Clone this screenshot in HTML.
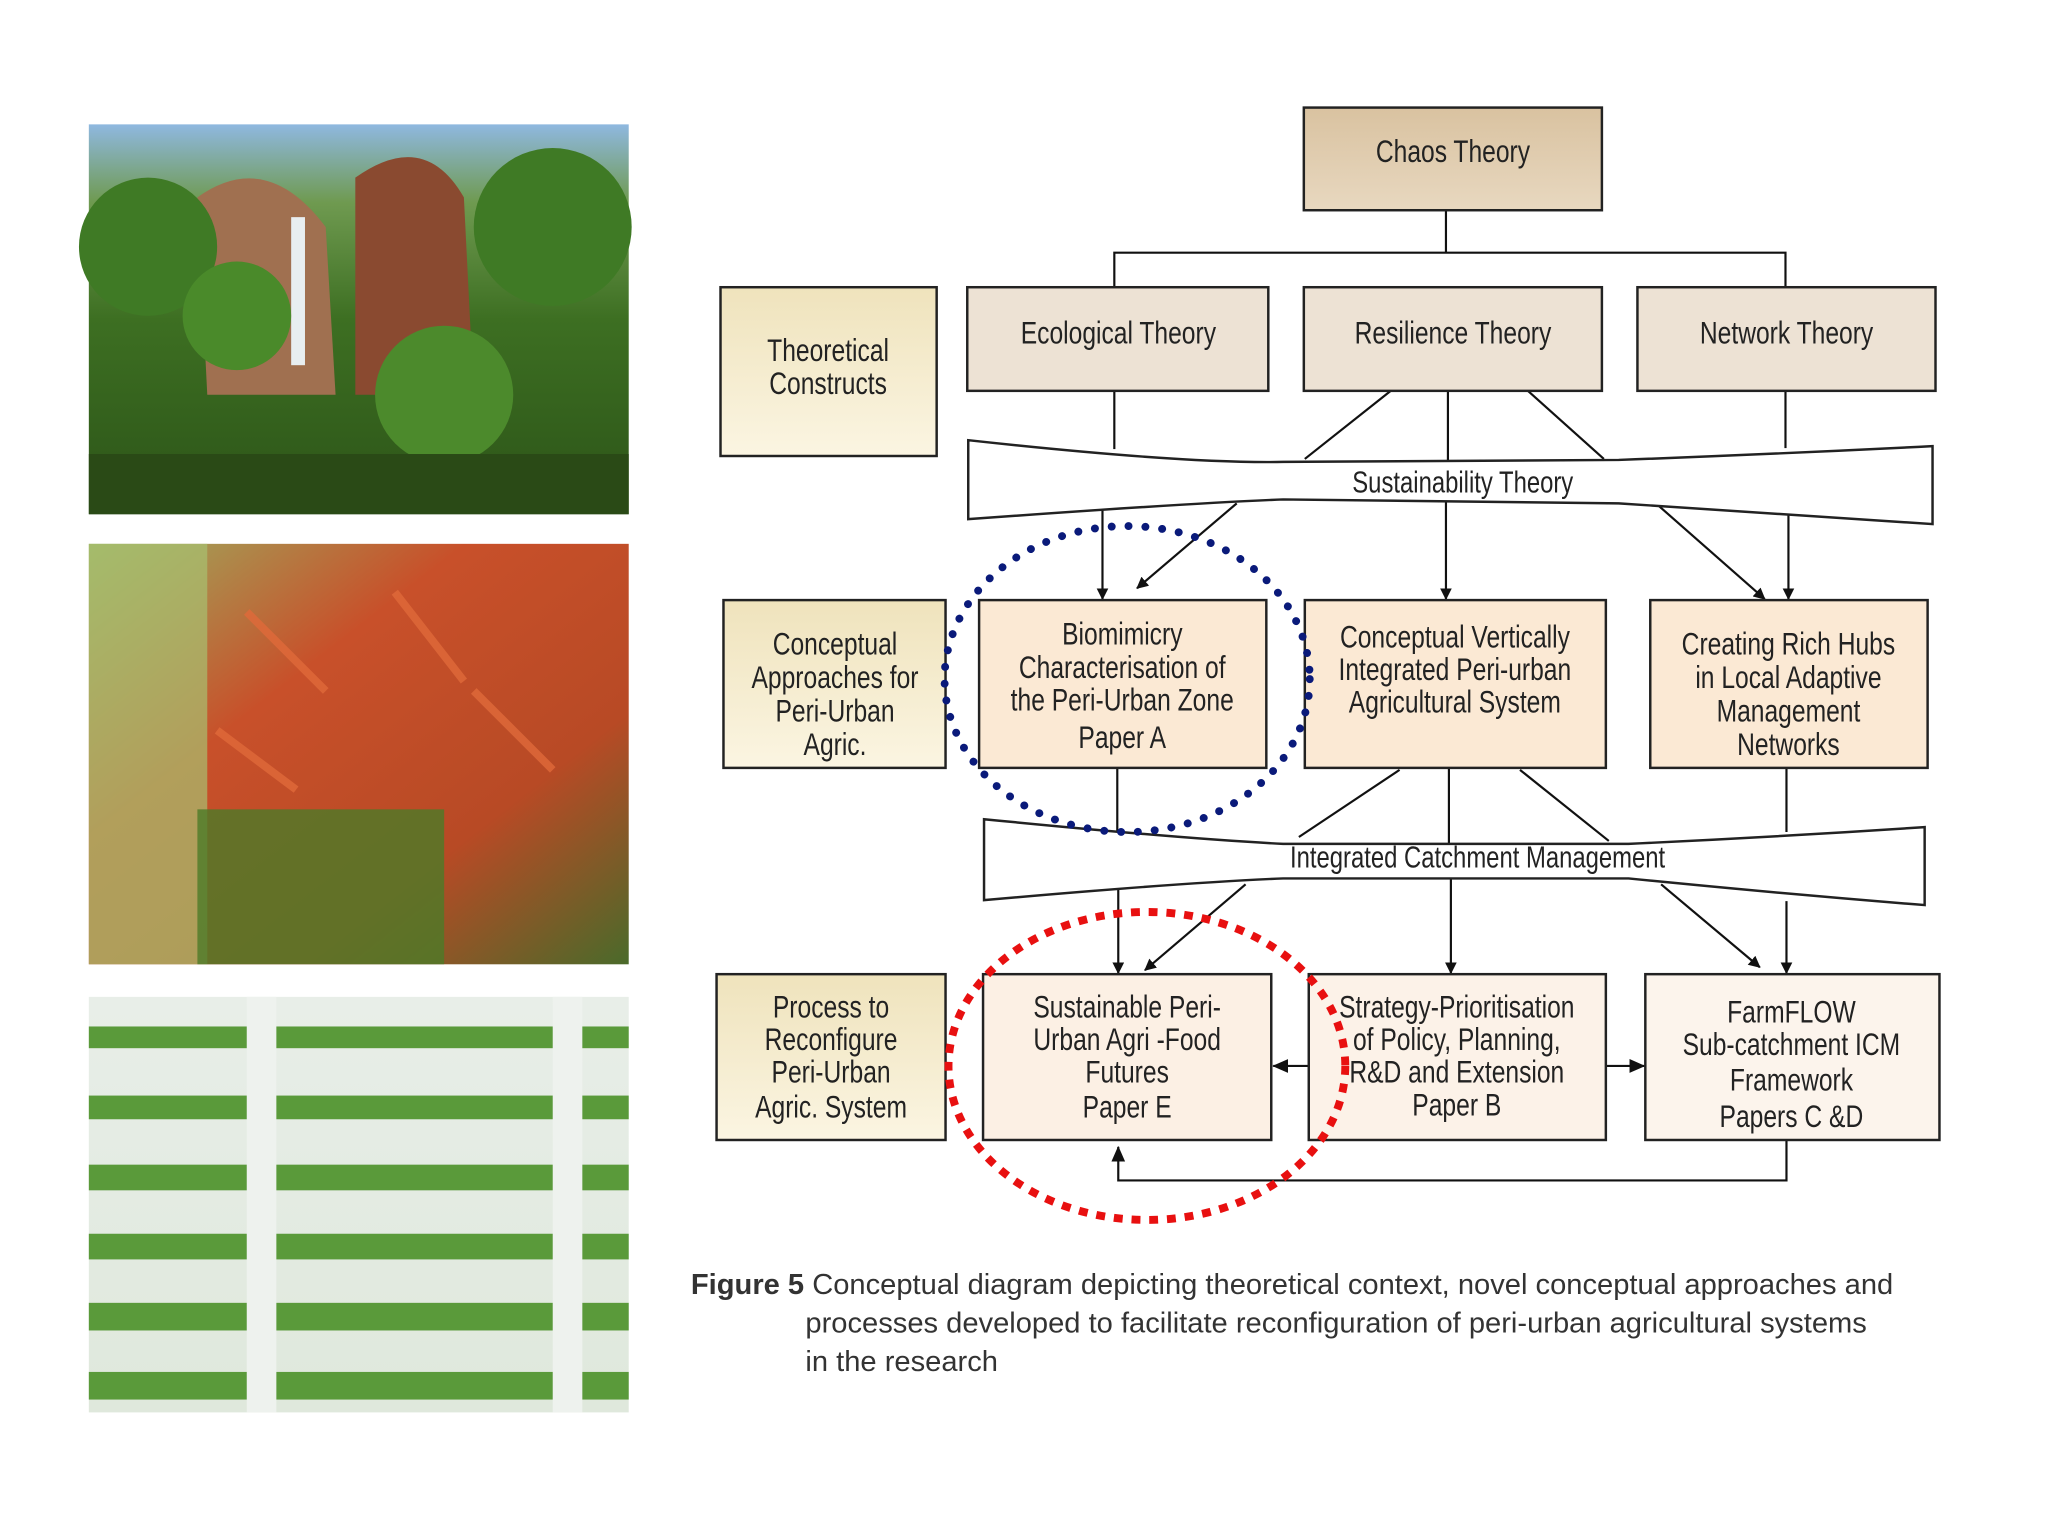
<!DOCTYPE html>
<html><head><meta charset="utf-8"><style>
html,body{margin:0;padding:0;background:#fff;}
svg{display:block;}
.b{font-family:"Liberation Sans",sans-serif;font-size:32px;fill:#222;text-anchor:middle;transform-box:fill-box;transform-origin:center;transform:scaleX(0.78);}
.c{font-family:"Liberation Sans",sans-serif;font-size:29.5px;fill:#333;}
</style></head><body>
<svg width="2048" height="1536" viewBox="0 0 2048 1536" xmlns="http://www.w3.org/2000/svg">
<defs>
<linearGradient id="p1" x1="0" y1="0" x2="0" y2="1"><stop offset="0" stop-color="#8fb8e0"/><stop offset="0.2" stop-color="#6f9a50"/><stop offset="0.5" stop-color="#3d6f22"/><stop offset="1" stop-color="#2c5418"/></linearGradient>
<linearGradient id="p2" x1="0" y1="0" x2="1" y2="1"><stop offset="0" stop-color="#9bb060"/><stop offset="0.35" stop-color="#c8502a"/><stop offset="0.7" stop-color="#b84a25"/><stop offset="1" stop-color="#4a6a2a"/></linearGradient>
<linearGradient id="p3" x1="0" y1="0" x2="0" y2="1"><stop offset="0" stop-color="#e8eee8"/><stop offset="1" stop-color="#dfe8dc"/></linearGradient>
<linearGradient id="tan" x1="0" y1="0" x2="0" y2="1"><stop offset="0" stop-color="#d9c2a0"/><stop offset="1" stop-color="#e8d8c0"/></linearGradient>
<linearGradient id="yel" x1="0" y1="0" x2="0" y2="1"><stop offset="0" stop-color="#efe3bc"/><stop offset="1" stop-color="#fbf5e2"/></linearGradient>
<marker id="a" markerWidth="12" markerHeight="12" refX="11" refY="6" orient="auto" markerUnits="userSpaceOnUse"><path d="M0,0 L12,6 L0,12 z" fill="#111"/></marker>
<marker id="ab" markerWidth="16" markerHeight="16" refX="15" refY="8" orient="auto" markerUnits="userSpaceOnUse"><path d="M0,1 L16,8 L0,15 z" fill="#111"/></marker>
</defs>
<g transform="scale(0.987)">
<rect x="90" y="126" width="547" height="395" fill="url(#p1)"/>
<path d="M200,200 Q270,150 330,230 L340,400 L210,400 Z" fill="#a07050"/>
<path d="M360,180 Q430,130 470,200 L480,400 L360,400 Z" fill="#8a4a30"/>
<rect x="295" y="220" width="14" height="150" fill="#e8eef0"/>
<circle cx="150" cy="250" r="70" fill="#3f7a25"/><circle cx="560" cy="230" r="80" fill="#3f7a25"/><circle cx="450" cy="400" r="70" fill="#4c8a2c"/><circle cx="240" cy="320" r="55" fill="#4a8a2a"/>
<rect x="90" y="460" width="547" height="61" fill="#2a4a16"/>
<rect x="90" y="551" width="547" height="426" fill="url(#p2)"/>
<rect x="90" y="551" width="120" height="426" fill="#a8c070" opacity="0.7"/>
<rect x="200" y="820" width="250" height="157" fill="#4c7a28" opacity="0.8"/>
<g stroke="#e06a3a" stroke-width="8" opacity="0.8"><line x1="250" y1="620" x2="330" y2="700"/><line x1="400" y1="600" x2="470" y2="690"/><line x1="480" y1="700" x2="560" y2="780"/><line x1="220" y1="740" x2="300" y2="800"/></g>
<rect x="90" y="1010" width="547" height="421" fill="url(#p3)"/>
<g fill="#5a9a3a"><rect x="90" y="1040" width="547" height="22"/><rect x="90" y="1110" width="547" height="24"/><rect x="90" y="1180" width="547" height="26"/><rect x="90" y="1250" width="547" height="26"/><rect x="90" y="1320" width="547" height="28"/><rect x="90" y="1390" width="547" height="28"/></g>
<rect x="250" y="1010" width="30" height="421" fill="#eef2ee"/><rect x="560" y="1010" width="30" height="421" fill="#eef2ee"/>
<g stroke="#111" stroke-width="2.2" fill="none">
<line x1="1465" y1="213" x2="1465" y2="256"/>
<polyline points="1129,291 1129,256 1809,256 1809,291"/>
<line x1="1129" y1="396" x2="1129" y2="455"/>
<line x1="1409" y1="396" x2="1322" y2="465"/>
<line x1="1467" y1="396" x2="1467" y2="466"/>
<line x1="1548" y1="396" x2="1625" y2="465"/>
<line x1="1809" y1="396" x2="1809" y2="454"/>
<line x1="1117" y1="506" x2="1117" y2="607" marker-end="url(#a)"/>
<line x1="1253" y1="510" x2="1152" y2="596" marker-end="url(#a)"/>
<line x1="1465" y1="502" x2="1465" y2="607" marker-end="url(#a)"/>
<line x1="1680" y1="512" x2="1788" y2="607" marker-end="url(#a)"/>
<line x1="1812" y1="515" x2="1812" y2="607" marker-end="url(#a)"/>
<line x1="1132" y1="778" x2="1132" y2="843"/>
<line x1="1418" y1="780" x2="1316" y2="848"/>
<line x1="1468" y1="778" x2="1468" y2="862"/>
<line x1="1540" y1="780" x2="1630" y2="852"/>
<line x1="1810" y1="778" x2="1810" y2="843"/>
<line x1="1133" y1="900" x2="1133" y2="986" marker-end="url(#a)"/>
<line x1="1262" y1="896" x2="1160" y2="983" marker-end="url(#a)"/>
<line x1="1470" y1="890" x2="1470" y2="986" marker-end="url(#a)"/>
<line x1="1683" y1="896" x2="1783" y2="980" marker-end="url(#a)"/>
<line x1="1810" y1="913" x2="1810" y2="986" marker-end="url(#a)"/>
<line x1="1326" y1="1080" x2="1290" y2="1080" marker-end="url(#ab)"/>
<line x1="1627" y1="1080" x2="1666" y2="1080" marker-end="url(#ab)"/>
<polyline points="1810,1155 1810,1196 1133,1196 1133,1162" marker-end="url(#ab)"/>
</g>
<path d="M981,446 Q1200,470 1300,468 L1640,466 Q1800,460 1958,452 L1958,531 Q1800,520 1640,510 L1300,506 Q1200,510 981,526 Z" fill="#fff" stroke="#222" stroke-width="2.5"/>
<text class="b" x="1482" y="499" style="font-size:31px">Sustainability Theory</text>
<path d="M997,830 Q1200,850 1300,855 L1650,855 Q1800,848 1950,838 L1950,917 Q1800,905 1650,890 L1300,890 Q1200,894 997,912 Z" fill="#fff" stroke="#222" stroke-width="2.5"/>
<text class="b" x="1497" y="879" style="font-size:31px">Integrated Catchment Management</text>
<g stroke="#222" stroke-width="2.5">
<rect x="1321" y="109" width="302" height="104" fill="url(#tan)"/>
<rect x="730" y="291" width="219" height="171" fill="url(#yel)"/>
<rect x="980" y="291" width="305" height="105" fill="#ede2d4"/>
<rect x="1321" y="291" width="302" height="105" fill="#ede2d4"/>
<rect x="1659" y="291" width="302" height="105" fill="#ede2d4"/>
<rect x="733" y="608" width="225" height="170" fill="url(#yel)"/>
<rect x="992" y="608" width="291" height="170" fill="#fbe9d4"/>
<rect x="1322" y="608" width="305" height="170" fill="#fbe9d4"/>
<rect x="1672" y="608" width="281" height="170" fill="#fbe9d4"/>
<rect x="726" y="987" width="232" height="168" fill="url(#yel)"/>
<rect x="996" y="987" width="292" height="168" fill="#fcf0e4"/>
<rect x="1326" y="987" width="301" height="168" fill="#fcf2e8"/>
<rect x="1667" y="987" width="298" height="168" fill="#fcf4ec"/>
</g>
<text class="b" x="1472" y="164">Chaos Theory</text>
<text class="b" x="839" y="366">Theoretical</text><text class="b" x="839" y="399">Constructs</text>
<text class="b" x="1133" y="348">Ecological Theory</text>
<text class="b" x="1472" y="348">Resilience Theory</text>
<text class="b" x="1810" y="348">Network Theory</text>
<text class="b" x="846" y="663">Conceptual</text><text class="b" x="846" y="697">Approaches for</text><text class="b" x="846" y="731">Peri-Urban</text><text class="b" x="846" y="765">Agric.</text>
<text class="b" x="1137" y="653">Biomimicry</text><text class="b" x="1137" y="687">Characterisation of</text><text class="b" x="1137" y="720">the Peri-Urban Zone</text><text class="b" x="1137" y="758">Paper A</text>
<text class="b" x="1474" y="656">Conceptual Vertically</text><text class="b" x="1474" y="689">Integrated Peri-urban</text><text class="b" x="1474" y="722">Agricultural System</text>
<text class="b" x="1812" y="663">Creating Rich Hubs</text><text class="b" x="1812" y="697">in Local Adaptive</text><text class="b" x="1812" y="731">Management</text><text class="b" x="1812" y="765">Networks</text>
<text class="b" x="842" y="1031">Process to</text><text class="b" x="842" y="1064">Reconfigure</text><text class="b" x="842" y="1097">Peri-Urban</text><text class="b" x="842" y="1132">Agric. System</text>
<text class="b" x="1142" y="1031">Sustainable Peri-</text><text class="b" x="1142" y="1064">Urban  Agri -Food</text><text class="b" x="1142" y="1097">Futures</text><text class="b" x="1142" y="1132">Paper E</text>
<text class="b" x="1476" y="1031">Strategy-Prioritisation</text><text class="b" x="1476" y="1064">of Policy, Planning,</text><text class="b" x="1476" y="1097">R&amp;D and Extension</text><text class="b" x="1476" y="1130">Paper B</text>
<text class="b" x="1815" y="1036">FarmFLOW</text><text class="b" x="1815" y="1069">Sub-catchment ICM</text><text class="b" x="1815" y="1105">Framework</text><text class="b" x="1815" y="1142">Papers C &amp;D</text>
<ellipse cx="1142" cy="688" rx="185" ry="155" fill="none" stroke="#0a1a7a" stroke-width="8" stroke-linecap="round" stroke-dasharray="0.1 17"/>
<ellipse cx="1162" cy="1080" rx="201" ry="156" fill="none" stroke="#e81010" stroke-width="8" stroke-dasharray="9 9"/>
<text class="c" x="700" y="1311"><tspan font-weight="bold">Figure 5</tspan>  Conceptual diagram depicting theoretical context, novel conceptual approaches and</text>
<text class="c" x="816" y="1350">processes developed to facilitate reconfiguration of peri-urban agricultural systems</text>
<text class="c" x="816" y="1389">in the research</text>
</g>
</svg>
</body></html>
